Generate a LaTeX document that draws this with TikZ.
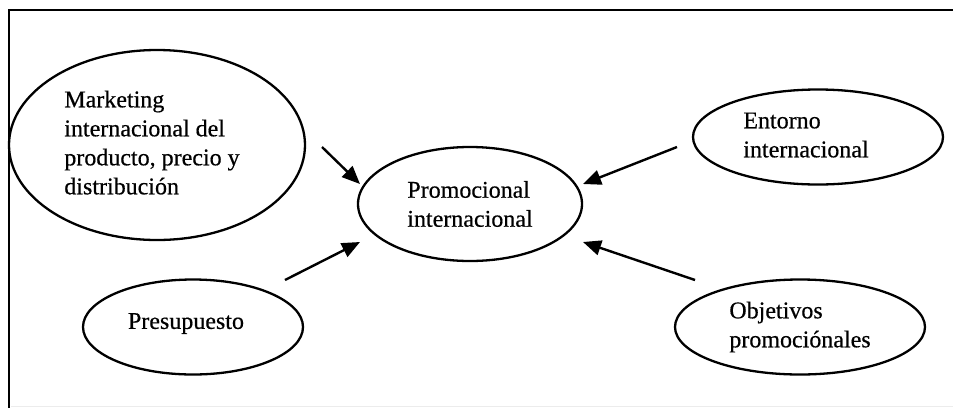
\documentclass[tikz,border=0pt]{standalone}
\usepackage{fontspec}
\setmainfont[FakeBold=0.5]{Liberation Serif}
\usetikzlibrary{shapes.geometric,arrows.meta,calc}
\begin{document}
\begin{tikzpicture}[x=1pt,y=-1pt,
  bubble/.style={draw,ellipse,line width=2.3pt,inner sep=0pt,align=left,
    font=\fontsize{24pt}{29pt}\selectfont},
  arr/.style={line width=2.4pt,-{Triangle[length=18pt,width=15pt]}},
  frame/.style={line width=2.2pt}]
\useasboundingbox (0,0) rectangle (953,408);
% open frame around the diagram
\coordinate (ftl) at (9,10);
\coordinate (ftr) at (953,10);
\coordinate (fbl) at (9,408);
\coordinate (fbr) at (953,406);
\draw[frame] (ftr) -- (ftl) -- (fbl);
\draw[gray!15,line width=1pt] ($(fbl)+(2,-2)$) -- (fbr);
% ellipses
\node[bubble,minimum width=296pt,minimum height=190pt] (mkt) at (157,145)
  {\hspace*{-10pt}\begin{tabular}{@{}l@{}}Marketing\\internacional del\\producto, precio y\\distribución\end{tabular}};
\node[bubble,minimum width=220pt,minimum height=95pt] (pre) at (193,327)
  {\hspace*{-14pt}\raisebox{12pt}{Presupuesto}};
\node[bubble,minimum width=224pt,minimum height=114pt] (pro) at (470,204)
  {Promocional\\internacional};
\node[bubble,minimum width=250pt,minimum height=95pt] (ent) at (818,137)
  {\hspace*{-24pt}\raisebox{-4pt}{\begin{tabular}{@{}l@{}}Entorno\\internacional\end{tabular}}};
\node[bubble,minimum width=250pt,minimum height=95pt] (obj) at (800,327)
  {\raisebox{-4pt}{\begin{tabular}{@{}l@{}}Objetivos\\promociónales\end{tabular}}};
% arrow ends
\coordinate (t1) at (322,147);
\coordinate (h1) at ($(pro.center)+(-110,-20)$);
\coordinate (t2) at (285,280);
\coordinate (h2) at ($(pro.center)+(-110,38)$);
\coordinate (t3) at (677,147);
\coordinate (h3) at ($(pro.center)+(113,-20)$);
\coordinate (t4) at (695,280);
\coordinate (h4) at ($(pro.center)+(113,38)$);
\draw[arr] (t1) -- (h1);
\draw[arr] (t2) -- (h2);
\draw[arr] (t3) -- (h3);
\draw[arr] (t4) -- (h4);
\end{tikzpicture}
\end{document}
